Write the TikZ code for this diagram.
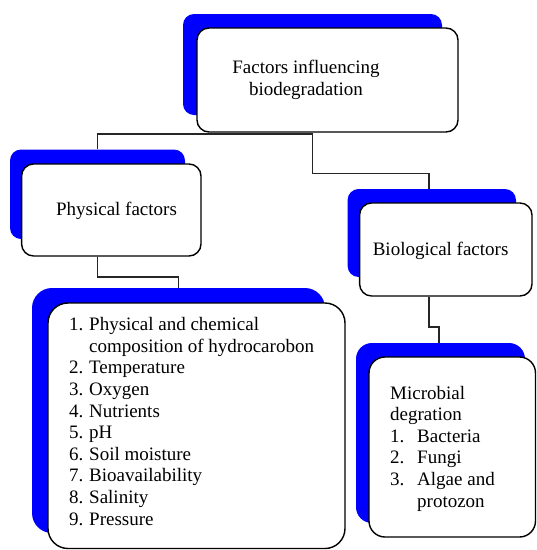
\documentclass[tikz,border=0pt]{standalone}
\usepackage{fontspec}
\setmainfont{Liberation Serif}
\begin{document}
\begin{tikzpicture}[x=1pt,y=-1pt,
  shadow/.style={fill=blue, draw=none, rounded corners=11pt, inner sep=0pt},
  card/.style={fill=white, draw=black, line width=1.4pt, rounded corners=12pt, inner sep=0pt},
  conn/.style={draw=black!85, line width=1.4pt},
  lbl/.style={font=\fontsize{19}{21.6}\selectfont, inner sep=0pt, align=left}]
\useasboundingbox (0,0) rectangle (537,550);
% top
\node[shadow, minimum width=259pt, minimum height=101pt] (topb) at (312.5,64.5) {};
\node[card, minimum width=261pt, minimum height=104pt] (topw) at (327.5,80) {};
% physical
\node[shadow, minimum width=175pt, minimum height=89.5pt] (physb) at (97.5,194.25) {};
\node[card, minimum width=179.4pt, minimum height=92pt] (physw) at (111.3,210) {};
% biological
\node[shadow, minimum width=168.4pt, minimum height=88pt] (biob) at (431.8,233) {};
\node[card, minimum width=172.4pt, minimum height=93pt] (biow) at (445.8,249.5) {};
% list
\node[shadow, rounded corners=20pt, minimum width=293pt, minimum height=245pt] (listb) at (178.5,410.5) {};
\node[card, rounded corners=20pt, minimum width=297pt, minimum height=245.5pt] (listw) at (196.5,425.75) {};
% microbial
\node[shadow, rounded corners=16pt, minimum width=169pt, minimum height=180pt] (microb) at (440.5,433) {};
\node[card, rounded corners=16pt, minimum width=166.5pt, minimum height=180pt] (microw) at (452.25,447) {};
% connectors
\coordinate (j1) at (312.5,133.8);
\coordinate (j2) at (312.5,173.5);
\coordinate (j3) at (97.5,277);
\coordinate (j4) at (429,327);
\coordinate (j5) at (439,327);
\draw[conn] (physb.north) |- (j1) -- (j2) -- (j2 -| j4) -- (biob.north -| j4);
\draw[conn] (physw.south -| physb.center) -- (j3) -| (listb.north);
\draw[conn] (biow.south -| j4) -- (j4) -- (j5) -- (microb.north -| j5);
% texts
\node[lbl, align=center, anchor=base] (toptext) at (306,95) {Factors influencing\\biodegradation};
\node[lbl, anchor=base] (phystext) at (116.5,215) {Physical factors};
\node[lbl, anchor=base] (biotext) at (440.6,255) {Biological factors};
\node[lbl, anchor=base west] (listtext) at (69,525) {%
\makebox[20pt][l]{1.}Physical and chemical\\
\hspace*{20pt}composition of hydrocarobon\\
\makebox[20pt][l]{2.}Temperature\\
\makebox[20pt][l]{3.}Oxygen\\
\makebox[20pt][l]{4.}Nutrients\\
\makebox[20pt][l]{5.}pH\\
\makebox[20pt][l]{6.}Soil moisture\\
\makebox[20pt][l]{7.}Bioavailability\\
\makebox[20pt][l]{8.}Salinity\\
\makebox[20pt][l]{9.}Pressure};
\node[lbl, anchor=base west] (microtext) at (390,507) {%
Microbial\\
degration\\
\makebox[27pt][l]{1.}Bacteria\\
\makebox[27pt][l]{2.}Fungi\\
\makebox[27pt][l]{3.}Algae and\\
\hspace*{27pt}protozon};
\end{tikzpicture}
\end{document}
